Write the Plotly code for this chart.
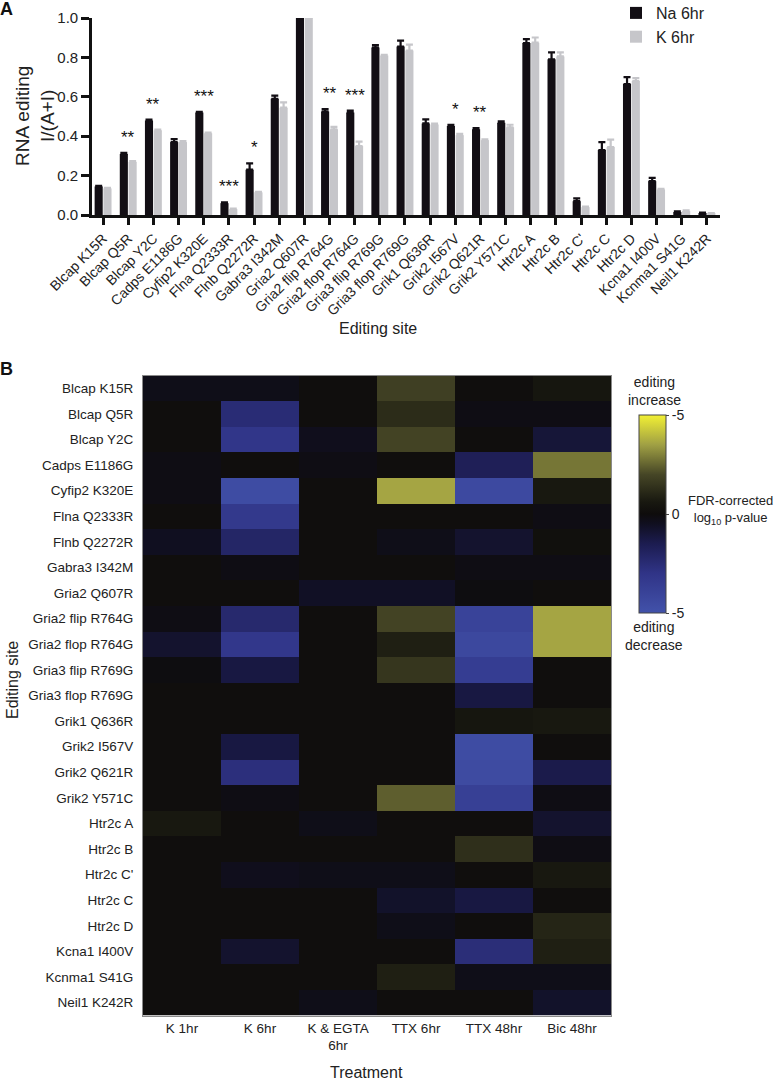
import plotly.graph_objects as go

W, H = 774, 1081

# ---------------- Data: panel A ----------------
sites = ["Blcap K15R", "Blcap Q5R", "Blcap Y2C", "Cadps E1186G", "Cyfip2 K320E",
         "Flna Q2333R", "Flnb Q2272R", "Gabra3 I342M", "Gria2 Q607R", "Gria2 flip R764G",
         "Gria2 flop R764G", "Gria3 flip R769G", "Gria3 flop R769G", "Grik1 Q636R",
         "Grik2 I567V", "Grik2 Q621R", "Grik2 Y571C", "Htr2c A", "Htr2c B", "Htr2c C'",
         "Htr2c C", "Htr2c D", "Kcna1 I400V", "Kcnma1 S41G", "Neil1 K242R"]
na_6hr = [0.145, 0.31, 0.48, 0.37, 0.52, 0.06, 0.23, 0.59, 1.0, 0.525,
          0.52, 0.85, 0.855, 0.465, 0.452, 0.435, 0.468, 0.873, 0.79, 0.07,
          0.33, 0.665, 0.172, 0.015, 0.01]
na_err = [0.003, 0.005, 0.004, 0.015, 0.004, 0.004, 0.032, 0.016, 0.0, 0.012,
          0.01, 0.012, 0.03, 0.02, 0.005, 0.006, 0.008, 0.02, 0.036, 0.014,
          0.04, 0.035, 0.016, 0.003, 0.002]
k_6hr = [0.135, 0.27, 0.43, 0.37, 0.415, 0.03, 0.115, 0.545, 1.0, 0.435,
         0.35, 0.81, 0.835, 0.46, 0.405, 0.38, 0.445, 0.875, 0.805, 0.04,
         0.345, 0.68, 0.13, 0.02, 0.008]
k_err = [0.003, 0.003, 0.004, 0.005, 0.003, 0.002, 0.003, 0.027, 0.0, 0.012,
         0.022, 0.003, 0.03, 0.004, 0.007, 0.004, 0.013, 0.026, 0.02, 0.003,
         0.038, 0.015, 0.003, 0.003, 0.002]
significance = ["", "**", "**", "", "***", "***", "*", "", "", "**",
                "***", "", "", "", "*", "**", "", "", "", "",
                "", "", "", "", ""]

# ---------------- Data: panel B ----------------
treatments = ["K 1hr", "K 6hr", "K & EGTA<br>6hr", "TTX 6hr", "TTX 48hr", "Bic 48hr"]
# signed FDR-corrected log10 p-values (positive = editing increase)
pvals = [
    [-0.3, -0.3, 0.1, 1.8, 0.1, 0.5],     # Blcap K15R
    [0.1, -2.5, 0.1, 1.2, -0.2, -0.2],    # Blcap Q5R
    [0.1, -3.1, -0.4, 1.9, 0.1, -1.0],    # Blcap Y2C
    [-0.2, 0.1, -0.2, 0.1, -1.7, 2.8],    # Cadps E1186G
    [-0.2, -4.6, 0.1, 3.6, -4.4, 0.6],    # Cyfip2 K320E
    [0.1, -3.3, 0.1, 0.1, 0.1, -0.2],     # Flna Q2333R
    [-0.5, -2.1, 0.1, -0.3, -0.8, 0.2],   # Flnb Q2272R
    [0.1, -0.2, 0.1, 0.1, -0.2, -0.2],    # Gabra3 I342M
    [0.1, 0.1, -0.6, -0.6, -0.1, 0.1],    # Gria2 Q607R
    [-0.2, -2.3, 0.1, 1.9, -4.0, 3.6],    # Gria2 flip R764G
    [-0.8, -3.2, 0.1, 0.8, -4.3, 3.6],    # Gria2 flop R764G
    [-0.1, -1.2, 0.1, 1.5, -3.6, 0.1],    # Gria3 flip R769G
    [0.1, 0.1, 0.1, 0.1, -1.2, 0.1],      # Gria3 flop R769G
    [0.1, 0.1, 0.1, 0.1, 0.5, 0.6],       # Grik1 Q636R
    [0.1, -1.2, 0.1, 0.1, -4.6, 0.1],     # Grik2 I567V
    [0.1, -2.7, 0.1, 0.1, -4.5, -1.4],    # Grik2 Q621R
    [0.1, -0.2, 0.1, 2.4, -3.8, -0.2],    # Grik2 Y571C
    [0.6, 0.1, -0.3, 0.1, 0.1, -0.8],     # Htr2c A
    [0.1, 0.1, 0.1, 0.1, 1.3, -0.2],      # Htr2c B
    [0.1, -0.4, -0.3, -0.3, 0.1, 0.6],    # Htr2c C'
    [0.1, 0.1, 0.1, -0.7, -1.2, 0.1],     # Htr2c C
    [0.1, 0.1, 0.1, -0.3, 0.1, 1.0],      # Htr2c D
    [0.1, -0.8, 0.1, 0.1, -2.6, 0.8],     # Kcna1 I400V
    [0.1, 0.1, 0.1, 0.8, -0.3, -0.3],     # Kcnma1 S41G
    [0.1, 0.1, -0.3, 0.1, 0.1, -0.7],     # Neil1 K242R
]
cbar_ticks = [-5, 0, 5]
cbar_ticktext = ["-5", "0", "-5"]


def px(x):
    return x / W


def py(y):
    return 1 - y / H


FONT = "Liberation Sans, Arial, Helvetica, sans-serif"
NA_COLOR = "#120e14"
K_COLOR = "#c6c6ca"

fig = go.Figure()

fig.add_trace(go.Bar(
    x=sites, y=na_6hr, name="Na 6hr", marker=dict(color=NA_COLOR, line=dict(width=0)),
    error_y=dict(type="data", array=na_err, arrayminus=[0] * len(na_err), symmetric=False,
                 color=NA_COLOR, thickness=2.2, width=3.5),
    xaxis="x", yaxis="y"))
fig.add_trace(go.Bar(
    x=sites, y=k_6hr, name="K 6hr", marker=dict(color=K_COLOR, line=dict(width=0)),
    error_y=dict(type="data", array=k_err, arrayminus=[0] * len(k_err), symmetric=False,
                 color=K_COLOR, thickness=2.2, width=3.5),
    xaxis="x", yaxis="y"))

colorscale = [
    [0.0, "rgb(66,82,170)"],
    [0.2, "rgb(48,52,135)"],
    [0.35, "rgb(28,28,80)"],
    [0.45, "rgb(16,15,32)"],
    [0.5, "rgb(14,12,12)"],
    [0.56, "rgb(24,24,16)"],
    [0.7, "rgb(70,70,38)"],
    [0.85, "rgb(160,160,68)"],
    [1.0, "rgb(242,240,52)"],
]

fig.add_trace(go.Heatmap(
    z=pvals, x=treatments, y=sites, zmin=-5, zmax=5, colorscale=colorscale,
    xaxis="x2", yaxis="y2", xgap=0, ygap=0,
    colorbar=dict(x=px(639), xanchor="left", y=py(514), yanchor="middle",
                  thickness=27, thicknessmode="pixels", len=198, lenmode="pixels",
                  outlinewidth=1, outlinecolor="#444", tickvals=cbar_ticks,
                  ticktext=cbar_ticktext, ticks="outside", ticklen=3, tickcolor="#444",
                  tickfont=dict(size=14, color="#222", family=FONT), xpad=0, ypad=0),
    hoverongaps=False))

annotations = []
for i, s in enumerate(significance):
    if s:
        top = max(na_6hr[i] + na_err[i], k_6hr[i] + k_err[i])
        annotations.append(dict(x=sites[i], y=top + 0.02, xref="x", yref="y", text=s,
                                showarrow=False, xanchor="center", yanchor="bottom",
                                font=dict(size=17, color="#111", family=FONT)))


def ann(x, y, text, size, color="#222", **kw):
    d = dict(x=px(x), y=py(y), xref="paper", yref="paper", text=text, showarrow=False,
             xanchor="center", yanchor="middle",
             font=dict(size=size, color=color, family=FONT))
    d.update(kw)
    annotations.append(d)


ann(7, 9, "<b>A</b>", 18, color="#111")
ann(7, 369, "<b>B</b>", 18, color="#111")
ann(35, 116, "RNA editing<br>I/(A+I)", 19, textangle=-90)
ann(378, 328, "Editing site", 16)
ann(12, 680, "Editing site", 16, textangle=-90)
ann(366, 1072, "Treatment", 16)
ann(654, 391, "editing<br>increase", 14)
ann(654, 636, "editing<br>decrease", 14)
ann(730, 510, "FDR-corrected<br>log<sub>10</sub> p-value", 13)

fig.update_layout(
    width=W, height=H, margin=dict(l=0, r=0, t=0, b=0, autoexpand=False),
    paper_bgcolor="white", plot_bgcolor="white",
    font=dict(family=FONT, color="#222"),
    barmode="group", bargap=0.3, bargroupgap=0.08,
    showlegend=True,
    legend=dict(x=px(616), y=py(-4), xanchor="left", yanchor="top",
                font=dict(size=16, color="#222", family=FONT),
                bgcolor="rgba(0,0,0,0)", itemwidth=30, tracegroupgap=0),
    xaxis=dict(domain=[px(92), px(720)], range=[-0.44, 24.52], anchor="y", automargin=False,
               showline=True, linecolor="#111", linewidth=2.6,
               ticks="outside", ticklen=7, tickwidth=2.5, tickcolor="#111",
               tickangle=-45, tickfont=dict(size=14, color="#222"),
               showgrid=False, zeroline=False),
    yaxis=dict(domain=[py(215), py(18)], range=[0, 1.0], anchor="x", automargin=False,
               showline=True, linecolor="#111", linewidth=2.6,
               ticks="outside", ticklen=8, tickwidth=2.5, tickcolor="#111",
               tickvals=[0, 0.2, 0.4, 0.6, 0.8, 1.0],
               ticktext=["0.0", "0.2", "0.4", "0.6", "0.8", "1.0"],
               tickfont=dict(size=15, color="#222"),
               showgrid=False, zeroline=False),
    xaxis2=dict(domain=[px(143), px(611)], anchor="y2", automargin=False,
                showline=True, mirror=True,
                linecolor="#8a8a8a", linewidth=1, ticks="", showgrid=False, zeroline=False,
                tickfont=dict(size=13.5, color="#222"), side="bottom"),
    yaxis2=dict(domain=[py(1015.5), py(375.5)], anchor="x2", autorange="reversed",
                automargin=False,
                showline=True, mirror=True, linecolor="#8a8a8a", linewidth=1,
                ticks="", showgrid=False, zeroline=False,
                tickfont=dict(size=13.5, color="#222"), ticklabelstandoff=6),
    annotations=annotations,
)

fig.write_html("out.html", config={"displayModeBar": False},
               post_script="document.body.style.margin='0';document.body.style.overflow='hidden';")
